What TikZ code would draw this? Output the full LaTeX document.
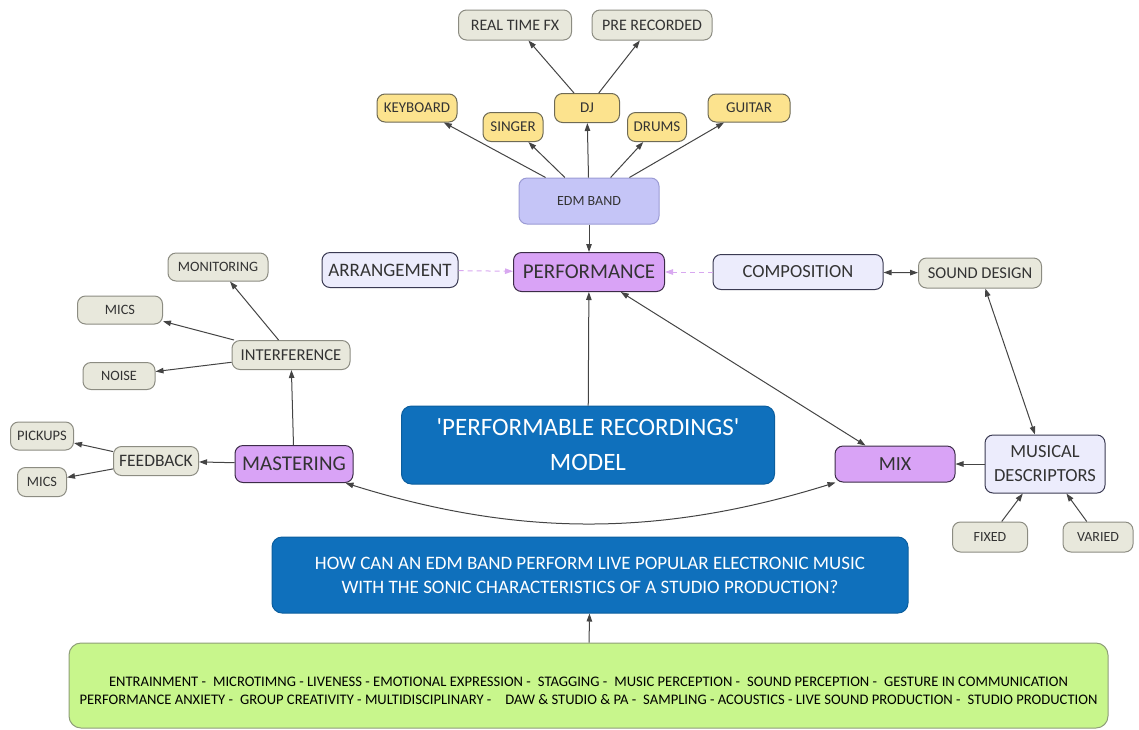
\documentclass[tikz,border=0pt]{standalone}
\usepackage{fontspec}
\setmainfont{Carlito}
\usetikzlibrary{arrows.meta}

\definecolor{txt}{HTML}{333333}
\definecolor{edge}{HTML}{444444}
\definecolor{yfill}{HTML}{FCE38E}
\definecolor{ydraw}{HTML}{6E6A55}
\definecolor{gfill}{HTML}{E8E8DC}
\definecolor{gdraw}{HTML}{8C8C82}
\definecolor{lfill}{HTML}{ECECFC}
\definecolor{ldraw}{HTML}{3A3A52}
\definecolor{efill}{HTML}{C5C5F7}
\definecolor{edraw}{HTML}{9B9BD4}
\definecolor{pfill}{HTML}{D9A3F6}
\definecolor{pdraw}{HTML}{3C2C48}
\definecolor{bfill}{HTML}{0F70BC}
\definecolor{bdraw}{HTML}{0B5E9E}
\definecolor{grfill}{HTML}{C8F68C}
\definecolor{grdraw}{HTML}{8E9E78}
\definecolor{dashcol}{HTML}{D8A8F0}

\newcommand{\fs}[1]{\fontsize{#1}{#1}\selectfont}
\newcommand{\gap}{\hspace{7pt}}

\begin{document}
\begin{tikzpicture}[x=1pt,y=-1pt,
  base/.style={draw, rounded corners=8pt, align=center, inner sep=0pt,
    text=txt, line width=1pt},
  sz/.style 2 args={minimum width=#1pt, minimum height=#2pt},
  ynode/.style={base, fill=yfill, draw=ydraw, font=\fs{15}},
  gnode/.style={base, fill=gfill, draw=gdraw, font=\fs{14.3}},
  lnode/.style={base, fill=lfill, draw=ldraw},
  enode/.style={base, fill=efill, draw=edraw, font=\fs{14}},
  pnode/.style={base, fill=pfill, draw=pdraw},
  bnode/.style={base, rounded corners=10pt, fill=bfill, draw=bdraw, text=white},
  grnode/.style={base, rounded corners=12pt, fill=grfill, draw=grdraw, text=black},
  link/.style={draw=edge, line width=1pt, -{Triangle[length=8pt,width=5.5pt]}},
  duo/.style={draw=edge, line width=1pt, {Triangle[length=8pt,width=5.5pt]}-{Triangle[length=8pt,width=5.5pt]}},
  dlink/.style={draw=dashcol, line width=1pt, dash pattern=on 5pt off 4pt, -{Triangle[length=8pt,width=5.5pt]}}
]
\useasboundingbox (0,0) rectangle (1139,729);

% instruments of the band
\node[gnode, sz={113}{30}, font=\fs{16}] (rtf) at (515,25) {REAL TIME FX};
\node[gnode, sz={120}{30}, font=\fs{16}] (prerec) at (652,25) {PRE RECORDED};
\node[ynode, sz={80}{28}] (kb) at (417,108) {KEYBOARD};
\node[ynode, sz={60}{29}] (sing) at (513,127) {SINGER};
\node[ynode, sz={65}{29}] (dj) at (587,108) {DJ};
\node[ynode, sz={59}{29}] (drum) at (657,127) {DRUMS};
\node[ynode, sz={82}{28}] (guit) at (749,108) {GUITAR};
\node[enode, sz={140}{46}] (edm) at (589,201) {EDM BAND};

% central row
\node[lnode, sz={136}{35}, font=\fs{19}] (arr) at (390,270) {ARRANGEMENT};
\node[pnode, sz={151}{39}, font=\fs{21}] (perf) at (589,272) {PERFORMANCE};
\node[lnode, sz={170}{35}, font=\fs{18.5}] (comp) at (798,272) {COMPOSITION};
\node[gnode, sz={123}{30}, font=\fs{16.5}] (sd) at (980,273) {SOUND DESIGN};

% right branch
\node[lnode, sz={120}{58}, font=\fontsize{18.5}{24}\selectfont] (md) at (1045,464) {MUSICAL\\DESCRIPTORS};
\node[pnode, sz={120}{36}, font=\fs{20}] (mix) at (895,464) {MIX};
\node[gnode, sz={75}{30}, font=\fs{14}] (fixed) at (990,537) {FIXED};
\node[gnode, sz={70}{30}, font=\fs{14}] (varied) at (1098,537) {VARIED};

% left branch
\node[gnode, sz={100}{28}] (mon) at (218,267) {MONITORING};
\node[gnode, sz={85}{28}] (micsa) at (120,310) {MICS};
\node[gnode, sz={118}{29}, font=\fs{16.6}] (intf) at (291,355) {INTERFERENCE};
\node[gnode, sz={72}{27}] (noise) at (119,376) {NOISE};
\node[gnode, sz={63}{28}, font=\fs{14.5}] (pick) at (42,436) {PICKUPS};
\node[gnode, sz={85}{29}, font=\fs{17.5}] (fb) at (156,461) {FEEDBACK};
\node[gnode, sz={49}{29}] (micsb) at (42,482) {MICS};
\node[pnode, sz={118}{37}, font=\fs{21}] (mas) at (294,464) {MASTERING};

% model and research question
\node[bnode, sz={373}{78}, font=\fontsize{25}{35}\selectfont] (model) at (588,445)
  {\textquotesingle PERFORMABLE RECORDINGS\textquotesingle\\MODEL};
\node[bnode, sz={636}{76}, font=\fontsize{19}{24}\selectfont] (q) at (590,575)
  {HOW CAN AN EDM BAND PERFORM LIVE POPULAR ELECTRONIC MUSIC\\WITH THE SONIC CHARACTERISTICS OF A STUDIO PRODUCTION?};
\node[grnode, sz={1039}{85}, font=\fontsize{14.6}{18}\selectfont] (topics) at (588.5,685.5)
  {\raisebox{-6pt}[\height][\depth]{\begin{tabular}{@{}c@{}}
   ENTRAINMENT -\gap MICROTIMNG - LIVENESS - EMOTIONAL EXPRESSION -\gap STAGGING -\gap MUSIC PERCEPTION -\gap SOUND PERCEPTION -\gap GESTURE IN COMMUNICATION\\
   PERFORMANCE ANXIETY -\gap GROUP CREATIVITY - MULTIDISCIPLINARY -\gap\gap DAW \& STUDIO \& PA -\gap SAMPLING - ACOUSTICS - LIVE SOUND PRODUCTION -\gap STUDIO PRODUCTION
   \end{tabular}}};

% connectors
\draw[link] (edm) -- (kb);
\draw[link] (edm) -- (sing);
\draw[link] (edm) -- (dj);
\draw[link] (edm) -- (drum);
\draw[link] (edm) -- (guit);
\draw[link] (dj) -- (rtf);
\draw[link] (dj) -- (prerec);
\draw[link] (edm) -- (perf);

\draw[dlink] (arr) -- (perf);
\draw[dlink] (comp) -- (perf);
\draw[duo] (comp) -- (sd);
\draw[duo] (sd) -- (md);
\draw[duo] (perf) -- (mix);
\draw[link] (md) -- (mix);
\draw[link] (fixed) -- (md);
\draw[link] (varied) -- (md);

\draw[link] (mas) -- (intf);
\draw[link] (intf) -- (mon);
\draw[link] (intf) -- (micsa);
\draw[link] (intf) -- (noise);
\draw[link] (mas) -- (fb);
\draw[link] (fb) -- (pick);
\draw[link] (fb) -- (micsb);

\draw[duo] ([xshift=-8pt]mas.south east) .. controls (518,537) and (660,537) .. ([xshift=1pt]mix.south west);

\draw[link] (model) -- (perf);
\draw[link] (topics) -- (q);
\end{tikzpicture}
\end{document}
